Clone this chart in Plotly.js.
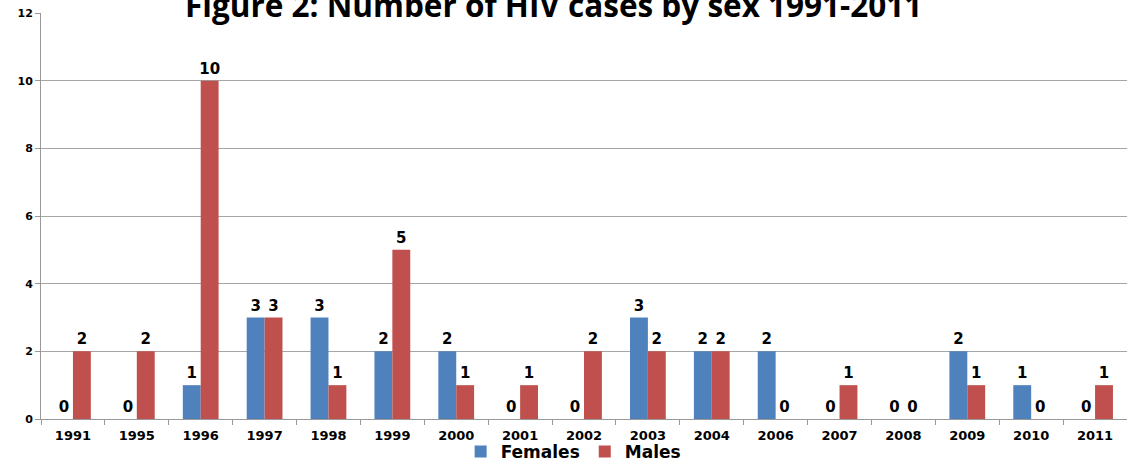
<!DOCTYPE html>
<html><head><meta charset="utf-8">
<script src="https://cdn.plot.ly/plotly-3.0.1.min.js"></script>
<style>html,body{margin:0;padding:0;background:#fff;}#chart{width:1127px;height:461px;}</style>
</head><body><div id="chart"></div>
<script>
const years = ["1991","1995","1996","1997","1998","1999","2000","2001","2002","2003","2004","2006","2007","2008","2009","2010","2011"];
const females = [0,0,1,3,3,2,2,0,0,3,2,2,0,0,2,1,0];
const males   = [2,2,10,3,1,5,1,1,2,2,2,0,1,0,1,0,1];
const yTicks = [0,2,4,6,8,10,12];
const titleText = "Figure 2: Number of HIV cases by sex 1991-2011";

const labelFont = {family:"DejaVu Sans", size:15, color:"#000", weight:"bold"};
const traces = [
  {type:"bar", name:"Females", x:years, y:females, marker:{color:"#4F81BD"},
   text:females.map(String), textposition:"outside", constraintext:"none", textfont:labelFont, cliponaxis:false, hoverinfo:"none"},
  {type:"bar", name:"Males", x:years, y:males, marker:{color:"#C0504D"},
   text:males.map(String), textposition:"outside", constraintext:"none", textfont:labelFont, cliponaxis:false, hoverinfo:"none"}
];
const layout = {
  width:1127, height:461,
  margin:{l:41, r:0, t:13, b:42, autoexpand:false},
  paper_bgcolor:"#fff", plot_bgcolor:"#fff",
  barmode:"group", bargap:0.44, bargroupgap:0,
  showlegend:true,
  legend:{orientation:"h", x:0.49, xanchor:"center", y:-0.081, yanchor:"middle", bgcolor:"rgba(0,0,0,0)",
          font:{family:"DejaVu Sans", size:17, color:"#000", weight:"bold"}, itemwidth:30, traceorder:"normal"},
  xaxis:{type:"category", showgrid:false, showline:true, linecolor:"#999", linewidth:1,
         ticks:"outside", tickson:"boundaries", ticklen:5, tickcolor:"#999", ticklabelstandoff:4,
         tickfont:{family:"DejaVu Sans", size:13, color:"#000", weight:"bold"}, fixedrange:true},
  yaxis:{range:[0,12], tickvals:yTicks, ticktext:yTicks.map(String), showgrid:true, gridcolor:"#a6a6a6", gridwidth:1,
         showline:true, linecolor:"#999", linewidth:1, ticks:"outside", ticklen:5, tickcolor:"#999",
         zeroline:false, tickfont:{family:"DejaVu Sans", size:11, color:"#000", weight:"bold"}, fixedrange:true},
  shapes:[{type:"rect", xref:"paper", yref:"paper", x0:0.1123, x1:0.857, y0:0.985, y1:1.06,
           fillcolor:"#fff", line:{width:0}, layer:"above"}],
  annotations:[{text:titleText, xref:"paper", yref:"paper", x:0.472, y:1.02, xanchor:"center", yanchor:"middle",
                showarrow:false, font:{family:"Open Sans", size:31.5, color:"#000", weight:"bold"}}]
};
Plotly.newPlot("chart", traces, layout, {displayModeBar:false, staticPlot:true});
</script>
</body></html>
